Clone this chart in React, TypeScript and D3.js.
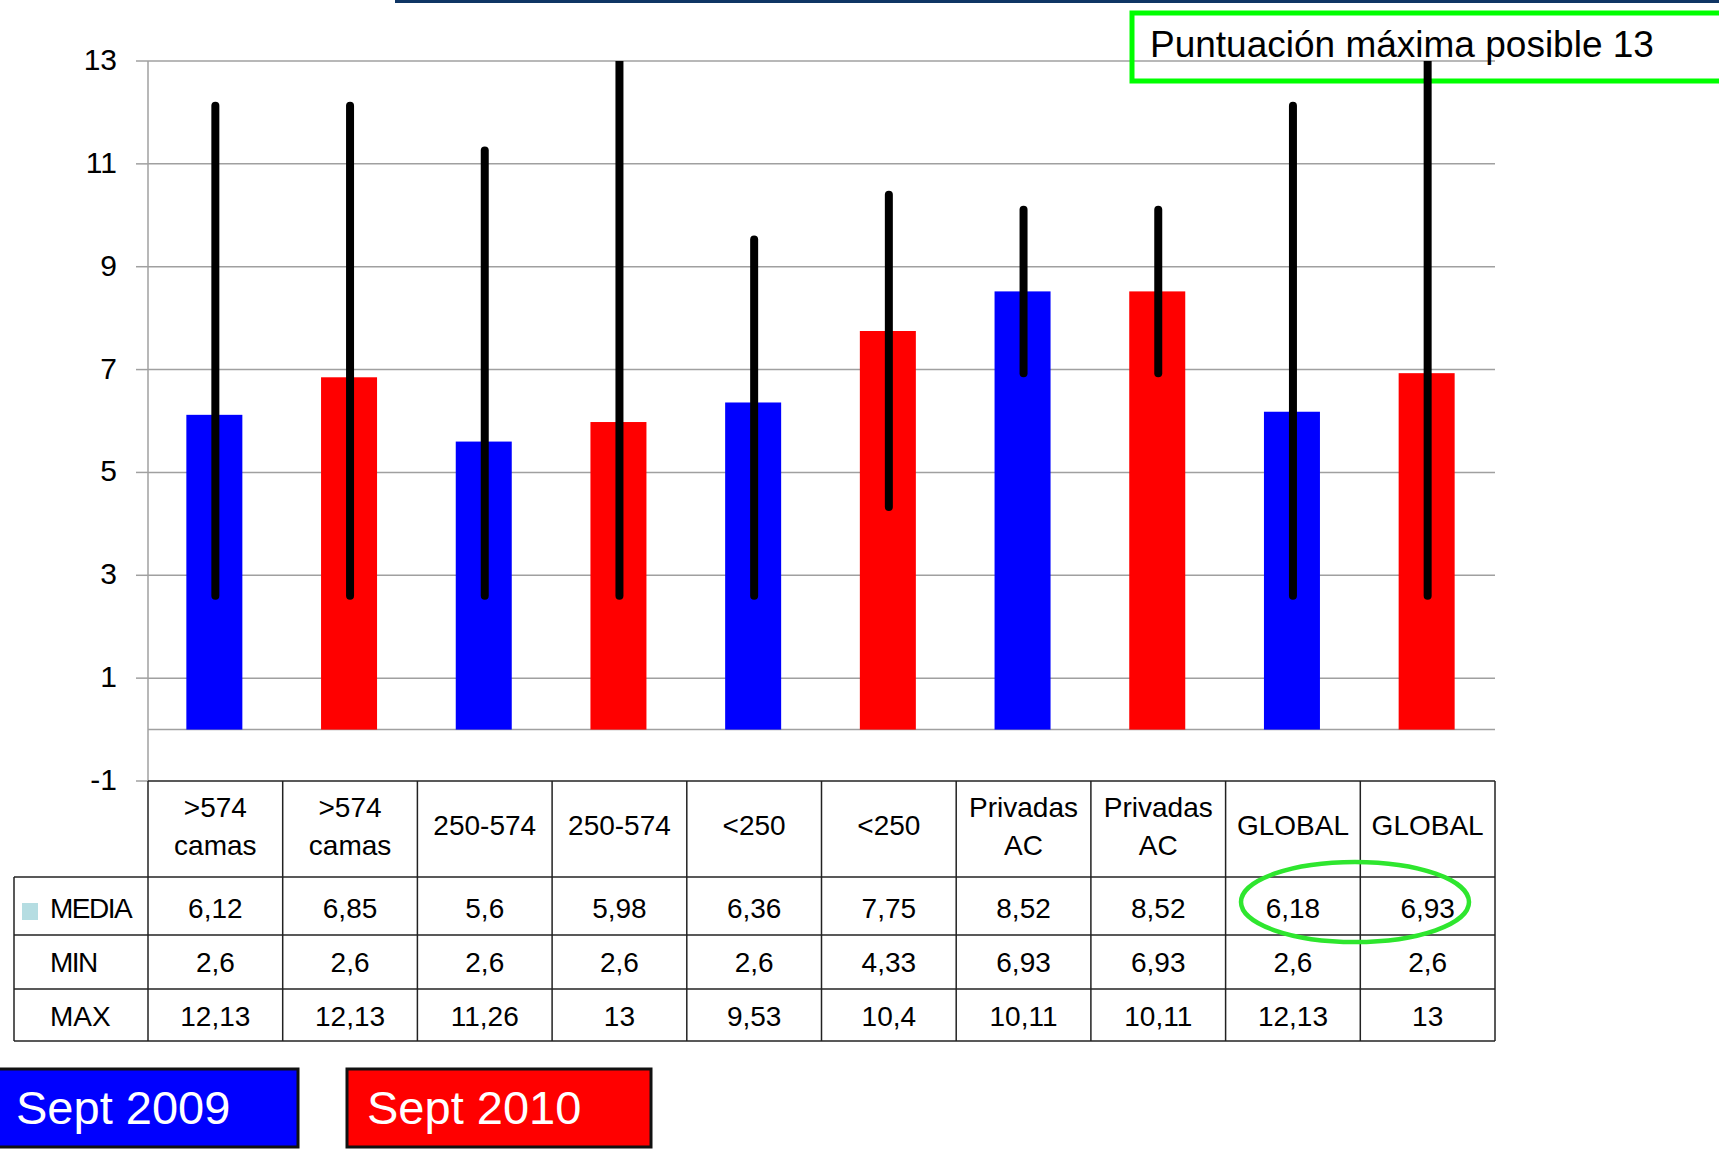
import React from "react";
import * as d3 from "d3";

const categories = [">574 camas", ">574 camas", "250-574", "250-574", "<250", "<250", "Privadas AC", "Privadas AC", "GLOBAL", "GLOBAL"];
const seriesOf = ["2009", "2010", "2009", "2010", "2009", "2010", "2009", "2010", "2009", "2010"];
const media = [6.12, 6.85, 5.6, 5.98, 6.36, 7.75, 8.52, 8.52, 6.18, 6.93];
const minVals = [2.6, 2.6, 2.6, 2.6, 2.6, 4.33, 6.93, 6.93, 2.6, 2.6];
const maxVals = [12.13, 12.13, 11.26, 13, 9.53, 10.4, 10.11, 10.11, 12.13, 13];
const yTicks = [-1, 1, 3, 5, 7, 9, 11, 13];
const legendLabels = ["Sept 2009", "Sept 2010"];
const rowLabels = ["MEDIA", "MIN", "MAX"];
const annotation = "Puntuación máxima posible 13";

const COLORS: Record<string, string> = { "2009": "#0000ff", "2010": "#ff0000" };
const FONT = "'Liberation Sans', Arial, sans-serif";

const fmt = (v: number) => String(v).replace(".", ",");

export default function App() {
  const W = 1719, H = 1152;
  const x0 = 148, x1 = 1495;
  const y = d3.scaleLinear().domain([-1, 13]).range([781, 61]);
  const x = d3.scaleBand<number>().domain(d3.range(categories.length)).range([x0, x1]).padding(0);
  const bw = x.bandwidth();
  const barW = 56;

  const rowTops = [877, 935, 989, 1041];
  const rowBase = [918, 972, 1026];
  const rows = [media, minVals, maxVals];
  const tableTop = y(-1);

  return (
    <svg width={W} height={H} style={{ position: "absolute", left: 0, top: 0, background: "#fff" }} fontFamily={FONT}>
      <defs>
        <clipPath id="plotClip">
          <rect x={x0} y={y(13)} width={x1 - x0} height={y(-1) - y(13)} />
        </clipPath>
      </defs>
      <rect x={0} y={0} width={W} height={H} fill="#fff" />
      {/* top navy line */}
      <rect x={395} y={0} width={W - 395} height={3} fill="#0f3564" />

      {/* gridlines */}
      {yTicks.filter((t) => t > -1).map((t) => (
        <line key={"g" + t} x1={x0} x2={x1} y1={y(t)} y2={y(t)} stroke="#a0a0a0" strokeWidth={1.5} />
      ))}
      <line x1={x0} x2={x1} y1={y(0)} y2={y(0)} stroke="#a0a0a0" strokeWidth={1.5} />
      {/* ticks */}
      {yTicks.map((t) => (
        <line key={"t" + t} x1={136} x2={x0} y1={y(t)} y2={y(t)} stroke="#a0a0a0" strokeWidth={1.5} />
      ))}
      {/* y axis line */}
      <line x1={x0} x2={x0} y1={y(13)} y2={y(-1)} stroke="#a0a0a0" strokeWidth={1.5} />
      {yTicks.map((t) => (
        <text key={"l" + t} x={117} y={y(t) + 9} textAnchor="end" fontSize={30} fill="#000">{t}</text>
      ))}

      {/* bars */}
      {media.map((v, i) => {
        const cx = (x(i) as number) + bw / 2;
        return <rect key={"b" + i} x={cx - barW / 2 - 1} y={y(v)} width={barW} height={y(0) - y(v)} fill={COLORS[seriesOf[i]]} />;
      })}

      {/* annotation box */}
      <rect x={1132} y={13} width={700} height={68} fill="none" stroke="#00ff00" strokeWidth={5} />
      <text x={1150} y={57} fontSize={37} fill="#000">{annotation}</text>

      {/* error bars */}
      <g clipPath="url(#plotClip)">
        {media.map((_, i) => {
          const cx = (x(i) as number) + bw / 2;
          return <line key={"e" + i} x1={cx} x2={cx} y1={y(minVals[i])} y2={y(maxVals[i])} stroke="#000" strokeWidth={8} strokeLinecap="round" />;
        })}
      </g>

      {/* table */}
      <g stroke="#222" strokeWidth={1.5}>
        <line x1={x0} x2={x1} y1={tableTop} y2={tableTop} />
        {rowTops.map((ry, k) => (
          <line key={"rt" + k} x1={14} x2={x1} y1={ry} y2={ry} />
        ))}
        <line x1={14} x2={14} y1={rowTops[0]} y2={rowTops[3]} />
        {d3.range(categories.length + 1).map((k) => {
          const xx = k === categories.length ? x1 : (x(k) as number);
          return <line key={"c" + k} x1={xx} x2={xx} y1={tableTop} y2={rowTops[3]} />;
        })}
      </g>
      {categories.map((c, i) => {
        const cx = (x(i) as number) + bw / 2;
        const parts = c.split(" ");
        if (parts.length === 2) {
          return (
            <text key={"h" + i} textAnchor="middle" fontSize={28} fill="#000">
              <tspan x={cx} y={817}>{parts[0]}</tspan>
              <tspan x={cx} y={855}>{parts[1]}</tspan>
            </text>
          );
        }
        return <text key={"h" + i} x={cx} y={835} textAnchor="middle" fontSize={28} fill="#000">{c}</text>;
      })}
      {rows.map((vals, r) =>
        vals.map((v, i) => (
          <text key={"v" + r + "-" + i} x={(x(i) as number) + bw / 2} y={rowBase[r]} textAnchor="middle" fontSize={28} fill="#000">{fmt(v)}</text>
        ))
      )}
      <rect x={22} y={903} width={16} height={17} fill="#b5dde2" />
      {rowLabels.map((l, r) => (
        <text key={"rl" + r} x={50} y={rowBase[r]} fontSize={28} letterSpacing={l === "MAX" ? 0 : -1.5} fill="#000">{l}</text>
      ))}

      {/* ellipse highlight */}
      <ellipse cx={1355} cy={902} rx={114} ry={40} fill="none" stroke="#2ee62e" strokeWidth={4.5} />

      {/* legend boxes */}
      <rect x={-2} y={1069} width={300} height={78} fill="#0000ff" stroke="#111" strokeWidth={3} />
      <text x={16} y={1124} fontSize={47} fill="#fff">{legendLabels[0]}</text>
      <rect x={347} y={1069} width={304} height={78} fill="#ff0000" stroke="#111" strokeWidth={3} />
      <text x={367} y={1124} fontSize={47} fill="#fff">{legendLabels[1]}</text>
    </svg>
  );
}
